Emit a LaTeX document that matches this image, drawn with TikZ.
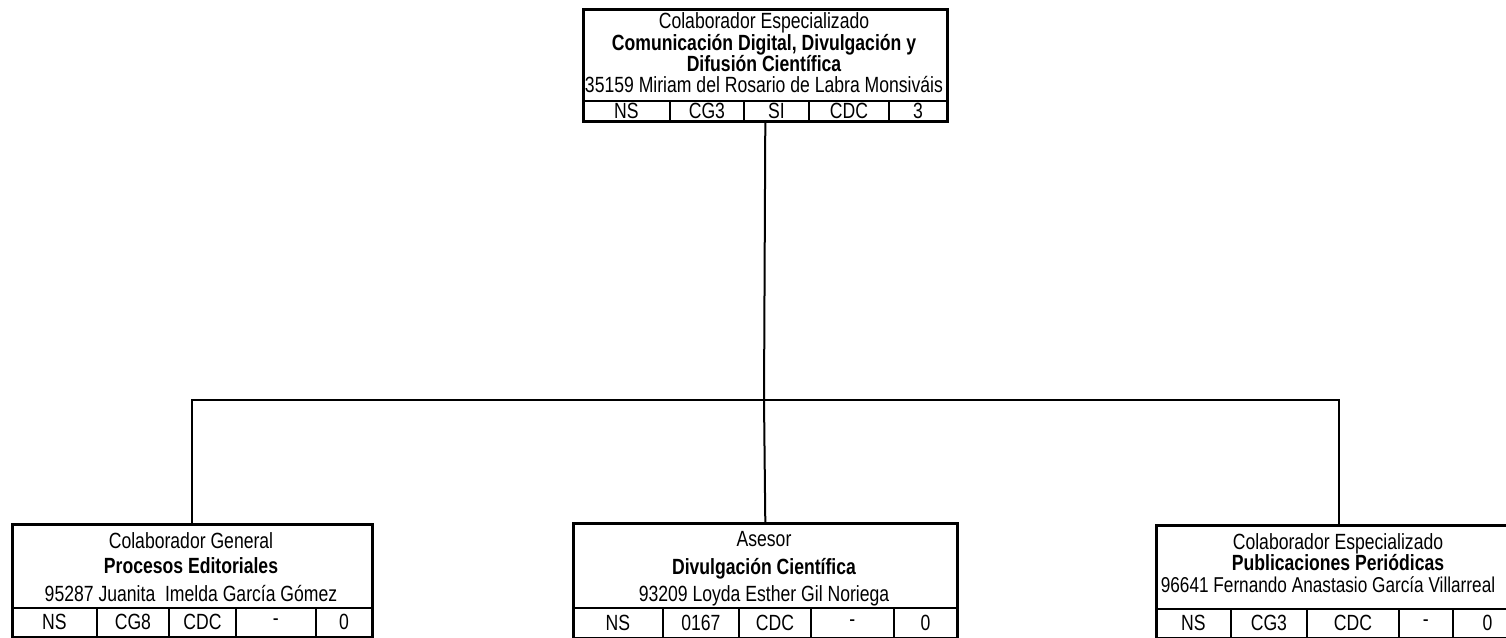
\documentclass[tikz,border=0pt]{standalone}
\usepackage{fontspec}
\setmainfont[FakeStretch=0.80]{Liberation Sans}
\usetikzlibrary{positioning}

\begin{document}
\begin{tikzpicture}[x=1pt,y=-1pt,font=\fontsize{22}{24}\selectfont,
    box/.style={draw, line width=2.6pt, anchor=north west, inner sep=0pt},
    cell/.style={draw, line width=1.8pt, anchor=north west, inner sep=0pt},
    txt/.style={inner sep=0pt, anchor=base},
    link/.style={draw, line width=2pt}]
    \useasboundingbox (0,0) rectangle (1506,637);

    \node[box, minimum width=364, minimum height=112] (top) at (582,8) {};
    \node[txt] (top-role) at (764,28) {Colaborador Especializado};
    \node[txt] (top-area1) at (764,50) {\bfseries Comunicación Digital, Divulgación y};
    \node[txt] (top-area2) at (764,71) {\bfseries Difusión Científica};
    \node[txt] (top-name) at (764,92) {35159 Miriam del Rosario de Labra Monsiváis};
    \foreach \a/\b/\t [count=\i] in {582/669/NS,669/743/CG3,743/808/SI,808/888/CDC,888/946/3}
        \node[cell, minimum width=\b-\a, minimum height=20] (top-c\i) at (\a,100) {\t};

    \node[box, minimum width=360, minimum height=113] (left) at (11,523) {};
    \node[txt] (left-role) at (191,548) {Colaborador General};
    \node[txt] (left-area) at (191,573) {\bfseries Procesos Editoriales};
    \node[txt] (left-name) at (191,601) {95287 Juanita~ Imelda García Gómez};
    \foreach \a/\b/\t [count=\i] in {11/96/NS,96/168/CG8,168/235/CDC,235/315/-,315/371/0}
        \node[cell, minimum width=\b-\a, minimum height=29] (left-c\i) at (\a,607) {\t};

    \node[box, minimum width=384, minimum height=115] (mid) at (572,522) {};
    \node[txt] (mid-role) at (764,546) {Asesor};
    \node[txt] (mid-area) at (764,574) {\bfseries Divulgación Científica};
    \node[txt] (mid-name) at (764,601) {93209 Loyda Esther Gil Noriega};
    \foreach \a/\b/\t [count=\i] in {572/662/NS,662/738/0167,738/810/CDC,810/893/-,893/956/0}
        \node[cell, minimum width=\b-\a, minimum height=30] (mid-c\i) at (\a,607) {\t};

    \node[box, minimum width=366, minimum height=113] (right) at (1155,524) {};
    \node[txt] (right-role) at (1338,549) {Colaborador Especializado};
    \node[txt] (right-area) at (1338,570) {\bfseries Publicaciones Periódicas};
    \node[txt, font=\fontsize{21.5}{24}\selectfont] (right-name) at (1328,592) {96641 Fernando Anastasio García Villarreal};
    \foreach \a/\b/\t [count=\i] in {1155/1230/NS,1230/1306/CG3,1306/1398/CDC,1398/1452/-,1452/1521/0}
        \node[cell, minimum width=\b-\a, minimum height=29] (right-c\i) at (\a,608) {\t};

    \coordinate (bus) at (764,400);
    \draw[link] (top.south) -- (bus);
    \draw[link] (bus) -| (left.north);
    \draw[link] (bus) -- (mid.north);
    \draw[link] (bus) -| (right.north);
\end{tikzpicture}
\end{document}
